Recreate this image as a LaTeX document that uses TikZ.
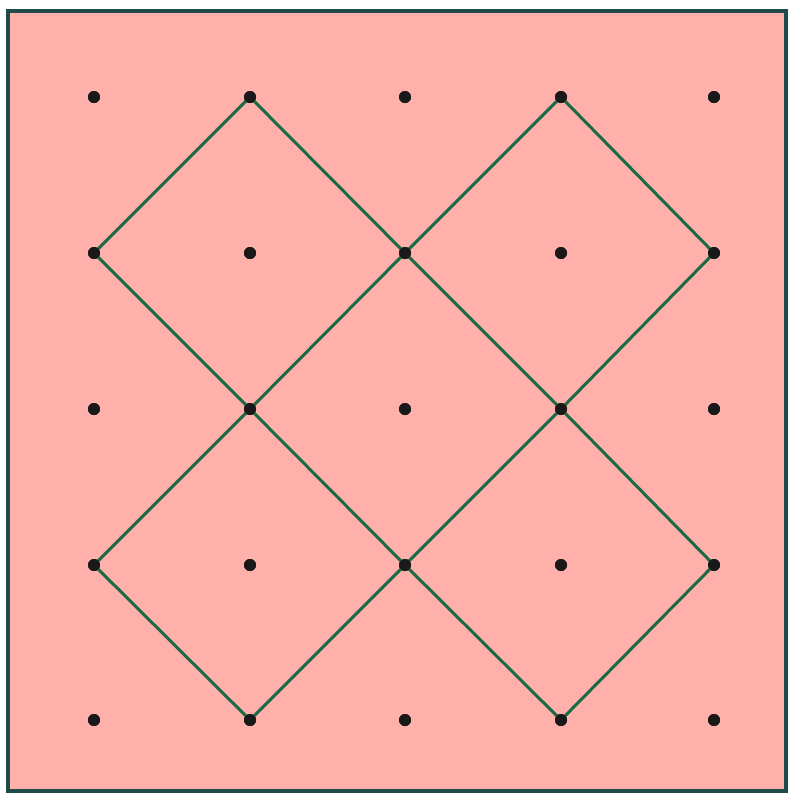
\documentclass[tikz,border=0pt]{standalone}
\definecolor{boardpink}{HTML}{FFB0AA}
\definecolor{framecol}{HTML}{1F4A4A}
\definecolor{bandcol}{HTML}{1A6A45}
\tikzset{
  peg/.style={circle,fill=black!90,inner sep=0pt,minimum size=12pt},
  band/.style={draw=bandcol,line width=3pt,line join=round}
}
\begin{document}
\begin{tikzpicture}[x=1pt,y=-1pt]
\useasboundingbox (0,0) rectangle (792,796);
\fill[white] (0,0) rectangle (792,796);
\draw[fill=boardpink,draw=framecol,line width=4.5pt] (8,11) rectangle (786,791);
\foreach \i/\x in {0/94,1/250,2/405,3/561,4/714}{
  \foreach \j/\y in {0/97,1/253,2/409,3/565,4/720}{
    \node[peg] (d\i\j) at (\x,\y) {};
  }
}
\draw[band] (d10.center) -- (d01.center) -- (d12.center) -- (d21.center) -- cycle;
\draw[band] (d30.center) -- (d21.center) -- (d32.center) -- (d41.center) -- cycle;
\draw[band] (d12.center) -- (d03.center) -- (d14.center) -- (d23.center) -- cycle;
\draw[band] (d32.center) -- (d23.center) -- (d34.center) -- (d43.center) -- cycle;
\foreach \i in {0,...,4}{\foreach \j in {0,...,4}{\fill[black!90] (d\i\j) circle (6pt);}}
\end{tikzpicture}
\end{document}
